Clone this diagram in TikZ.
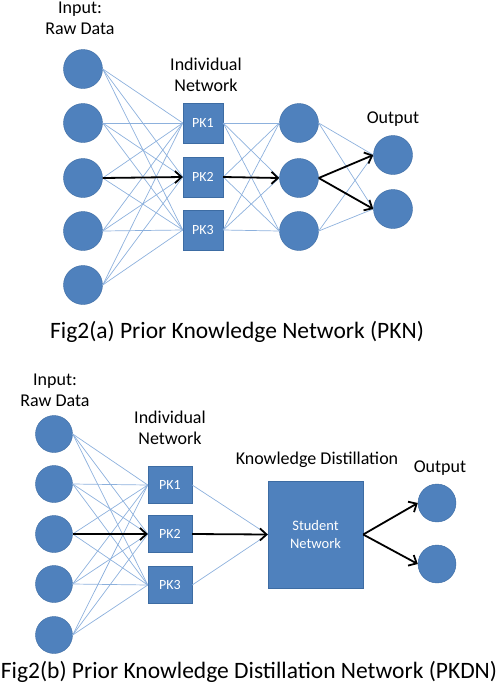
\documentclass[tikz,border=0pt]{standalone}
\usepackage{fontspec}
\setmainfont{Carlito}
\usepackage{xcolor}
\usetikzlibrary{arrows.meta}

\definecolor{nodeblue}{HTML}{4F81BD}
\definecolor{nodeline}{HTML}{3D6CA3}
\definecolor{linkblue}{HTML}{8DB1DD}

\begin{document}
\begin{tikzpicture}[x=1pt, y=-1pt]

% Define styles for the parts
\tikzstyle{neuron} = [circle, draw=nodeline, fill=nodeblue, inner sep=0pt, minimum size=39pt]
\tikzstyle{pkbox} = [draw=nodeline, fill=nodeblue, text=white, inner sep=0pt, minimum width=40pt, minimum height=40pt, font=\fontsize{14}{16}\selectfont]
\tikzstyle{link} = [draw=linkblue, line width=0.7pt]
\tikzstyle{flow} = [draw=black, line width=1.8pt, -{Straight Barb[length=6.5pt, width=12pt]}]
\tikzstyle{tag} = [align=center, font=\fontsize{18}{21}\selectfont]
\tikzstyle{caption} = [font=\fontsize{23.5}{27}\selectfont]

\useasboundingbox (0,0) rectangle (502,694);

% ---- Fig2(a) ----
% Input layer
\node[tag] (ainput) at (80,18) {Input:\\Raw Data};
\foreach \i/\y in {1/69,2/123,3/178,4/231,5/285} {
  \node[neuron] (a\i) at (83,\y) {};
}

% Individual networks
\node[tag] (aindiv) at (206,75) {Individual\\Network};
\foreach \i/\y in {1/123,2/177,3/230} {
  \node[pkbox] (ak\i) at (203,\y) {PK\i};
}

% Hidden and output layers
\foreach \i/\y in {1/123,2/178,3/231} {
  \node[neuron] (ah\i) at (299,\y) {};
}
\node[tag] (aout) at (393,119) {Output};
\foreach \i/\y in {1/155,2/209} {
  \node[neuron] (ao\i) at (393,\y) {};
}

% Links
\foreach \i in {1,...,5} {
  \foreach \j in {1,2,3} {
    \draw[link] (a\i.east) -- (ak\j.west);
  }
}
\foreach \j in {1,2,3} {
  \foreach \k in {1,2,3} {
    \draw[link] (ak\j.east) -- (ah\k.west);
  }
}
\foreach \k in {1,2,3} {
  \foreach \m in {1,2} {
    \draw[link] (ah\k.east) -- (ao\m.west);
  }
}

% Main path
\draw[flow] (a3.east) -- (ak2.west);
\draw[flow] (ak2.east) -- (ah2.west);
\draw[flow] (ah2.east) -- (ao1.west);
\draw[flow] (ah2.east) -- (ao2.west);

\node[caption] (acap) at (237,332) {Fig2(a) Prior Knowledge Network (PKN)};

% ---- Fig2(b) ----
% Input layer
\node[tag] (binput) at (55,390) {Input:\\Raw Data};
\foreach \i/\y in {1/434,2/484,3/534,4/584,5/635} {
  \node[neuron, minimum size=37pt] (b\i) at (54,\y) {};
}

% Individual networks
\node[tag] (bindiv) at (170,428) {Individual\\Network};
\foreach \i/\y in {1/485,2/534,3/585} {
  \node[pkbox, minimum width=44pt, minimum height=37pt] (bk\i) at (170,\y) {PK\i};
}

% Student network
\node[tag] (bkd) at (317,460) {Knowledge Distillation};
\node[pkbox, minimum width=95pt, minimum height=107pt, align=center,
  font=\fontsize{14.5}{18}\selectfont] (bs) at (315.5,534.5) {Student\\Network};

% Output layer
\node[tag] (bout) at (440,468) {Output};
\foreach \i/\y in {1/503,2/564} {
  \node[neuron, minimum size=38pt] (bo\i) at (437,\y) {};
}

% Links
\foreach \i in {1,...,5} {
  \foreach \j in {1,2,3} {
    \draw[link] (b\i.east) -- (bk\j.west);
  }
}
\draw[link] (bk1.east) -- (bs.west);
\draw[link] (bk3.east) -- (bs.west);

% Main path
\draw[flow] (b3.east) -- (bk2.west);
\draw[flow] (bk2.east) -- (bs.west);
\draw[flow] (bs.east) -- (bo1.west);
\draw[flow] (bs.east) -- (bo2.west);

\node[caption] (bcap) at (249,672) {Fig2(b) Prior Knowledge Distillation Network (PKDN)};

\end{tikzpicture}
\end{document}
